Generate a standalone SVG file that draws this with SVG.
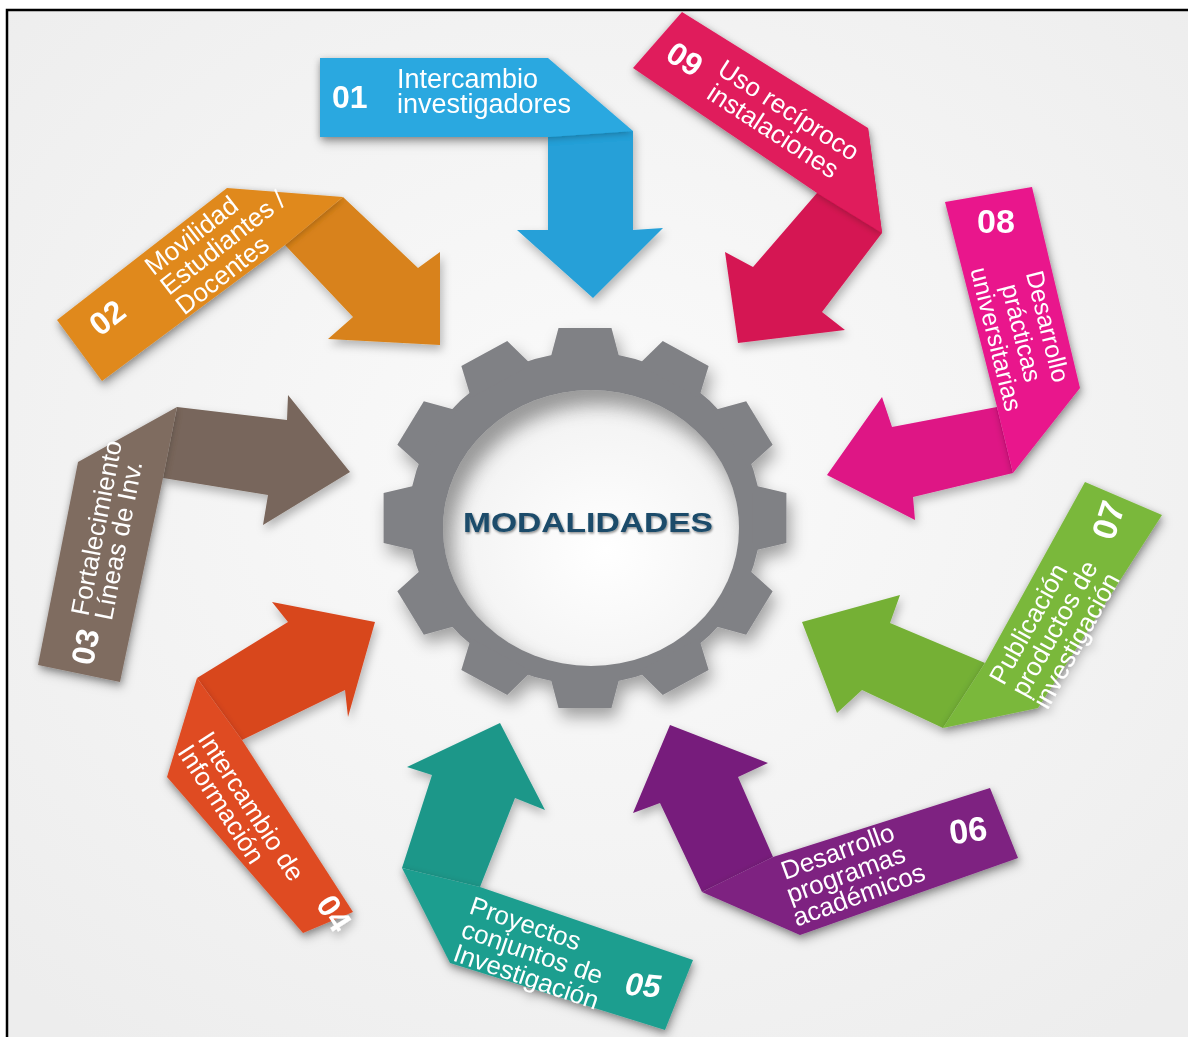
<svg xmlns="http://www.w3.org/2000/svg" xmlns:xlink="http://www.w3.org/1999/xlink" width="1188" height="1037" viewBox="0 0 1188 1037">
<defs>
<radialGradient id="bg" cx="50%" cy="45%" r="70%">
<stop offset="0" stop-color="#fbfbfb"/>
<stop offset="1" stop-color="#ededed"/>
</radialGradient>
<radialGradient id="holeGrad" cx="55%" cy="58%" r="60%">
<stop offset="0" stop-color="#ffffff"/>
<stop offset="1" stop-color="#f1f1f1"/>
</radialGradient>
<filter id="sh" x="-20%" y="-20%" width="140%" height="140%">
<feDropShadow dx="2" dy="5" stdDeviation="5" flood-color="#000" flood-opacity="0.28"/>
</filter>
<filter id="fold" x="-20%" y="-20%" width="140%" height="140%">
<feDropShadow dx="0" dy="2" stdDeviation="3" flood-color="#000" flood-opacity="0.25"/>
</filter>
<filter id="gearSh" x="-20%" y="-20%" width="140%" height="140%">
<feDropShadow dx="4" dy="9" stdDeviation="8" flood-color="#000" flood-opacity="0.35"/>
</filter>
<filter id="blur" x="-20%" y="-20%" width="140%" height="140%">
<feGaussianBlur stdDeviation="9"/>
</filter>
<filter id="tsh" x="-10%" y="-30%" width="120%" height="160%">
<feDropShadow dx="1" dy="1.5" stdDeviation="1" flood-color="#000" flood-opacity="0.45"/>
</filter>
<clipPath id="holeClip"><ellipse cx="591" cy="528" rx="148" ry="138"/></clipPath>
<polygon id="tooth" points="-33,-158 -25,-190 25,-190 33,-158"/>
<style>
.lbl{font-family:"Liberation Sans",Arial,sans-serif;font-size:26px;fill:#ffffff}
.num{font-family:"Liberation Sans",Arial,sans-serif;font-size:32px;font-weight:bold;fill:#ffffff}
.title{font-family:"Liberation Sans",Arial,sans-serif;font-size:28px;font-weight:bold;fill:#1a4c6b}
</style>
</defs>

<rect x="0" y="0" width="1188" height="1037" fill="#ffffff"/>
<rect x="7" y="10" width="1181" height="1027" fill="url(#bg)"/>
<path d="M7,1037 V10 H1188" fill="none" stroke="#000" stroke-width="2.5"/>

<g id="connectors"></g>

<g id="node-center">
<g filter="url(#gearSh)">
<g transform="translate(585,518) scale(1.06,1)" fill="#808185">
<circle r="166"/>
<use xlink:href="#tooth"/>
<use xlink:href="#tooth" transform="rotate(30)"/>
<use xlink:href="#tooth" transform="rotate(60)"/>
<use xlink:href="#tooth" transform="rotate(90)"/>
<use xlink:href="#tooth" transform="rotate(120)"/>
<use xlink:href="#tooth" transform="rotate(150)"/>
<use xlink:href="#tooth" transform="rotate(180)"/>
<use xlink:href="#tooth" transform="rotate(210)"/>
<use xlink:href="#tooth" transform="rotate(240)"/>
<use xlink:href="#tooth" transform="rotate(270)"/>
<use xlink:href="#tooth" transform="rotate(300)"/>
<use xlink:href="#tooth" transform="rotate(330)"/>
</g>
</g>
<ellipse cx="591" cy="528" rx="148" ry="138" fill="url(#holeGrad)"/>
<g clip-path="url(#holeClip)">
<ellipse cx="599" cy="541" rx="163" ry="153" fill="none" stroke="#505050" stroke-width="34" opacity="0.55" filter="url(#blur)"/>
</g>
<text class="title" x="588" y="532" text-anchor="middle" textLength="250" lengthAdjust="spacingAndGlyphs" filter="url(#tsh)">MODALIDADES</text>
</g>

<g id="node-01" filter="url(#sh)">
<polygon fill="#25a0d8" points="548,128 633,131 633,230 663,228 593,298 517,230 548,230"/>
<polygon fill="#2aa8e0" filter="url(#fold)" points="320,58 548,58 633,131 548,137 320,137"/>
<text class="num" x="332" y="108">01</text>
<text class="lbl" style="font-size:27px"><tspan x="397" y="88">Intercambio</tspan><tspan x="397" y="113">investigadores</tspan></text>
</g>

<g id="node-02" filter="url(#sh)">
<polygon fill="#d8821a" points="285,245 343,197 418,268 440,252 440,345 328,339 353,317"/>
<polygon fill="#e0891e" filter="url(#fold)" points="57,320 227,188 343,197 285,245 102,381"/>
<g transform="translate(57,320) rotate(-38)">
<text class="num" x="41" y="40" text-anchor="middle">02</text>
<text class="lbl"><tspan x="103" y="25">Movilidad</tspan><tspan x="103" y="50">Estudiantes /</tspan><tspan x="103" y="75">Docentes</tspan></text>
</g>
</g>

<g id="node-03" filter="url(#sh)">
<polygon fill="#78665b" points="163,478 177,407 287,420 288,395 350,472 263,525 268,495"/>
<polygon fill="#7f6c61" filter="url(#fold)" points="38,665 78,462 177,407 163,478 120,682"/>
<g transform="translate(38,665) rotate(-79)">
<text class="num" x="27" y="54" text-anchor="middle">03</text>
<text class="lbl"><tspan x="57" y="40">Fortalecimiento</tspan><tspan x="57" y="64">Líneas de Inv.</tspan></text>
</g>
</g>

<g id="node-04" filter="url(#sh)">
<polygon fill="#d8461f" points="197,678 288,622 272,602 375,622 348,717 345,690 242,740"/>
<polygon fill="#df4b23" filter="url(#fold)" points="197,678 242,740 353,912 303,933 167,777"/>
<g transform="translate(197,739) rotate(57)">
<text class="lbl"><tspan x="0" y="0">Intercambio de</tspan><tspan x="0" y="24">Información</tspan></text>
<text class="num" x="203" y="-9">04</text>
</g>
</g>

<g id="node-05" filter="url(#sh)">
<polygon fill="#1c9789" points="407,767 500,723 545,810 515,798 480,887 402,868 432,775"/>
<polygon fill="#1f9e8f" filter="url(#fold)" points="402,868 480,887 693,960 665,1030 450,963"/>
<g transform="translate(468,913) rotate(19)">
<text class="lbl"><tspan x="0" y="0">Proyectos</tspan><tspan x="0" y="25">conjuntos de</tspan><tspan x="0" y="50">Investigación</tspan></text>
</g>
<text class="num" style="font-style:italic" transform="translate(643,985) rotate(5)" x="0" y="11" text-anchor="middle">05</text>
</g>

<g id="node-06" filter="url(#sh)">
<polygon fill="#771c7b" points="633,813 670,725 768,763 738,777 773,857 702,892 660,803"/>
<polygon fill="#7e2081" filter="url(#fold)" points="702,892 773,857 990,788 1018,858 800,935"/>
<g transform="translate(785,880) rotate(-20)">
<text class="lbl"><tspan x="0" y="0">Desarrollo</tspan><tspan x="-3" y="24">programas</tspan><tspan x="-5" y="48">académicos</tspan></text>
</g>
<text class="num" style="font-size:34px" transform="translate(968,830) rotate(-8)" x="0" y="12" text-anchor="middle">06</text>
</g>

<g id="node-07" filter="url(#sh)">
<polygon fill="#74b036" points="985,663 943,728 862,690 837,713 802,622 900,595 890,623"/>
<polygon fill="#7ab83b" filter="url(#fold)" points="1085,482 1162,515 1038,708 943,728 985,663"/>
<g transform="translate(1085,482) rotate(-61)">
<text class="lbl"><tspan x="-218" y="28">Publicación</tspan><tspan x="-218" y="53">productos de</tspan><tspan x="-218" y="78">investigación</tspan></text>
</g>
<text class="num" style="font-size:34px" transform="translate(1108,520) rotate(-72)" x="0" y="12" text-anchor="middle">07</text>
</g>

<g id="node-08" filter="url(#sh)">
<polygon fill="#de1485" points="997,407 1013,473 913,497 915,520 827,475 882,397 892,427"/>
<polygon fill="#e9168c" filter="url(#fold)" points="945,202 1032,187 1080,388 1013,473 997,407"/>
<text class="num" style="font-size:34px" x="996" y="233" text-anchor="middle">08</text>
<g transform="translate(1032,187) rotate(76)">
<text class="lbl" style="font-size:25px" text-anchor="middle"><tspan x="139" y="27">Desarrollo</tspan><tspan x="139" y="54">prácticas</tspan><tspan x="139" y="80">universitarias</tspan></text>
</g>
</g>

<g id="node-09" filter="url(#sh)">
<polygon fill="#d51752" points="817,193 868,128 882,233 822,312 845,330 738,343 725,252 753,267"/>
<polygon fill="#e01b5b" filter="url(#fold)" points="682,12 868,128 882,233 817,193 633,68"/>
<g transform="translate(682,12) rotate(33)">
<text class="num" x="28" y="49" text-anchor="middle">09</text>
<text class="lbl"><tspan x="62" y="33">Uso recíproco</tspan><tspan x="66" y="59">instalaciones</tspan></text>
</g>
</g>
</svg>
